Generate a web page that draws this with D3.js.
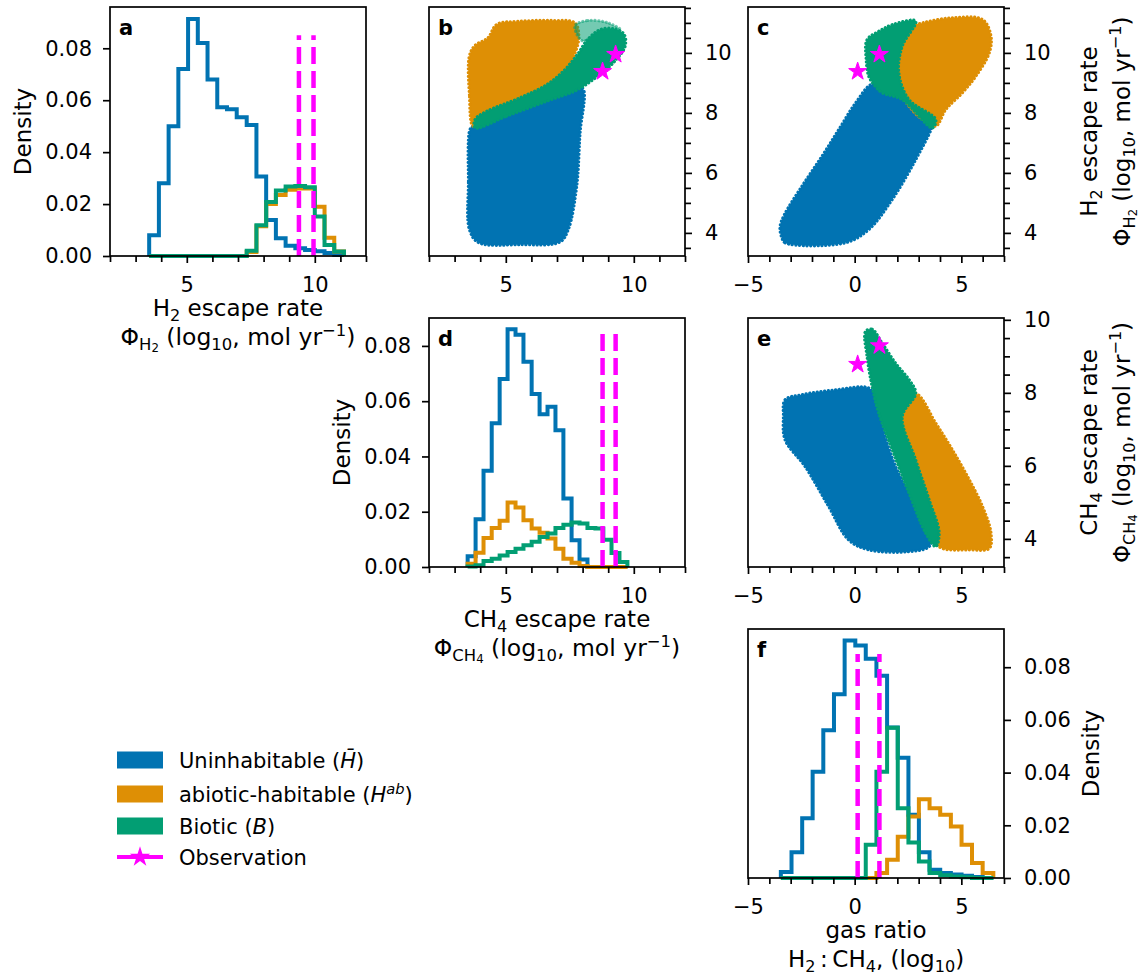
<!DOCTYPE html>
<html>
<head>
<meta charset="utf-8">
<script src="https://cdn.jsdelivr.net/npm/d3@7"></script>
<style>
  body { margin: 0; background: #fff; }
  svg { font-family: "DejaVu Sans", sans-serif; }
</style>
</head>
<body>
<svg id="fig" width="1141" height="976"></svg>
<script>
// ---- histogram data (density per bin, 20 bins) ----
const h2Edges = [3.53, 3.91, 4.29, 4.67, 5.05, 5.43, 5.81, 6.19, 6.57, 6.95, 7.34, 7.72, 8.10, 8.48, 8.86, 9.24, 9.62, 10.00, 10.38, 10.76, 11.14];
const h2Uninhab = [0.008, 0.028, 0.050, 0.072, 0.0913, 0.082, 0.068, 0.0573, 0.0565, 0.0534, 0.0505, 0.0306, 0.0139, 0.0068, 0.0039, 0.003, 0.0023, 0.0018, 0.0012, 0.0004];
const h2Abiotic = [0, 0, 0, 0, 0, 0, 0, 0, 0, 0, 0.0015, 0.0115, 0.020, 0.0235, 0.0255, 0.026, 0.026, 0.019, 0.007, 0.0017];
const h2Biotic = [0, 0, 0, 0, 0, 0, 0, 0, 0, 0, 0.002, 0.0118, 0.0208, 0.0252, 0.0268, 0.027, 0.0265, 0.0152, 0.0042, 0.0017];

const ch4Edges = [3.51, 3.82, 4.13, 4.45, 4.76, 5.07, 5.38, 5.69, 6.01, 6.32, 6.63, 6.94, 7.25, 7.57, 7.88, 8.19, 8.50, 8.81, 9.13, 9.44, 9.75];
const ch4Uninhab = [0.0039, 0.0173, 0.0348, 0.052, 0.068, 0.086, 0.084, 0.0743, 0.0626, 0.0553, 0.058, 0.0495, 0.0248, 0.0097, 0.0027, 0, 0, 0, 0, 0];
const ch4Abiotic = [0.0012, 0.0052, 0.0105, 0.0141, 0.0167, 0.0233, 0.0215, 0.0169, 0.0139, 0.0124, 0.0103, 0.0066, 0.003, 0.0015, 0.0004, 0, 0, 0, 0, 0];
const ch4Biotic = [0.0002, 0.0006, 0.0022, 0.003, 0.0042, 0.0054, 0.0066, 0.0079, 0.0091, 0.0109, 0.0121, 0.0141, 0.0153, 0.0161, 0.0157, 0.0141, 0.0139, 0.0099, 0.0051, 0.0018];

const ratioEdges = [-3.46, -2.96, -2.46, -1.97, -1.47, -0.97, -0.47, 0.03, 0.52, 1.02, 1.52, 2.02, 2.52, 3.01, 3.51, 4.01, 4.51, 5.01, 5.50, 6.00, 6.50];
const ratioUninhab = [0.0023, 0.0098, 0.0227, 0.0403, 0.0561, 0.0697, 0.0901, 0.0882, 0.0832, 0.0768, 0.0571, 0.0456, 0.024, 0.0098, 0.0031, 0.0019, 0.0013, 0.0009, 0.0004, 0];
const ratioAbiotic = [0, 0, 0, 0, 0, 0, 0, 0, 0, 0.0019, 0.0069, 0.0157, 0.0233, 0.0299, 0.0265, 0.024, 0.0195, 0.0126, 0.0057, 0.0019];
const ratioBiotic = [0, 0, 0, 0, 0, 0, 0, 0, 0.0126, 0.0403, 0.057, 0.0265, 0.0135, 0.0063, 0.0019, 0.001, 0.0006, 0.0003, 0, 0];

// ---- observations ----
const obsH2 = [9.38, 9.95];
const obsCH4 = [8.78, 9.29];
const obsRatio = [0.14, 1.16];
const obsLineTop = 0.085;

// ---- scatter cloud outlines (x, y) ----
// panel b: CH4 (x) vs H2 (y)
const cloudB_uninhab = [[3.60,7.44],[3.54,5.67],[3.58,4.11],[3.93,3.68],[5.55,3.61],[7.12,3.70],[7.44,4.11],[7.77,5.56],[7.90,7.33],[8.03,8.78],[7.77,8.89],[5.55,8.22],[3.73,7.56]];
const cloudB_abiotic = [[3.73,7.56],[3.58,8.60],[3.58,9.90],[3.80,10.25],[4.30,10.50],[4.65,10.95],[5.50,11.05],[6.80,11.08],[7.70,11.00],[7.85,10.50],[7.60,9.80],[7.10,9.20],[6.40,8.80],[5.55,8.44],[4.25,7.94]];
const cloudB_biotic = [[3.80,7.50],[5.03,7.89],[6.60,8.39],[7.77,8.76],[8.55,9.20],[9.20,9.67],[9.66,10.22],[9.62,10.62],[9.25,10.80],[8.70,10.78],[8.20,10.45],[7.80,9.95],[7.25,9.39],[6.60,8.94],[5.55,8.50],[4.25,8.05],[3.80,7.78]];
const cloudB_bioticSparse = [[7.70,10.90],[8.20,11.08],[9.00,11.00],[9.50,10.75],[8.70,10.70],[8.00,10.40]];
// panel c: ratio (x) vs H2 (y)
const cloudC_uninhab = [[-3.42,3.85],[-3.26,3.67],[-0.44,3.67],[0.66,4.11],[1.76,5.11],[2.86,6.44],[3.64,7.56],[3.70,7.90],[2.50,8.40],[1.29,8.78],[0.80,8.95],[0.04,8.33],[-0.75,7.44],[-1.53,6.56],[-2.47,5.56],[-3.30,4.60],[-3.50,4.20]];
const cloudC_abiotic = [[1.92,10.33],[2.23,10.78],[3.17,11.00],[4.58,11.17],[6.00,11.11],[6.39,10.56],[6.31,10.00],[5.68,9.22],[5.05,8.67],[4.27,8.11],[3.80,7.56],[3.17,7.78],[2.55,8.22],[2.07,8.78],[1.98,9.56]];
const cloudC_biotic = [[0.58,10.44],[1.13,10.72],[1.76,10.94],[2.86,11.06],[2.23,10.22],[2.07,9.33],[2.55,8.44],[3.80,7.78],[3.64,7.50],[2.23,8.44],[1.29,8.67],[0.98,8.87],[0.66,9.22],[0.54,9.78]];
// panel e: ratio (x) vs CH4 (y)
const cloudE_uninhab = [[-3.34,7.35],[-3.26,7.81],[-2.47,7.95],[-0.91,8.08],[0.66,8.13],[0.98,7.81],[1.29,7.08],[1.92,5.98],[2.86,4.89],[3.64,4.16],[3.49,3.79],[2.55,3.65],[0.66,3.70],[-0.28,3.97],[-1.22,4.89],[-2.32,5.98],[-3.26,6.71]];
const cloudE_abiotic = [[1.92,7.90],[2.86,7.99],[3.80,7.17],[4.58,6.44],[5.37,5.62],[5.99,4.89],[6.39,4.16],[6.31,3.74],[5.37,3.70],[4.11,3.74],[3.64,3.97],[3.17,4.70],[2.55,5.62],[1.92,6.71],[1.60,7.44]];
const cloudE_biotic = [[0.51,9.68],[0.82,9.74],[1.29,9.36],[1.92,8.81],[2.55,8.36],[2.86,7.99],[2.23,7.35],[2.86,6.16],[3.49,5.07],[3.96,4.16],[3.80,3.79],[3.33,4.16],[2.55,5.25],[1.76,6.44],[1.13,7.44],[0.82,8.17],[0.58,9.00]];

// ---- ticks ----
const escTicks = [5, 10];
const escMinor = [2, 3, 4, 6, 7, 8, 9, 11, 12];
const ratioTicks = [-5, 0, 5];
const ratioMinor = [-4, -3, -2, -1, 1, 2, 3, 4, 6, 7];
const rateTicks = [4, 6, 8, 10];
const rateMinorH2 = [3.5, 4.5, 5, 5.5, 6.5, 7, 7.5, 8.5, 9, 9.5, 10.5, 11, 11.5];
const rateMinorCH4 = [3.5, 4.5, 5, 5.5, 6.5, 7, 7.5, 8.5, 9, 9.5];
const densTicks = [0, 0.02, 0.04, 0.06, 0.08];

const legendLabels = ["Uninhabitable", "abiotic-habitable", "Biotic", "Observation"];

const blue = "#0173b2", orange = "#de8f05", green = "#029e73", magenta = "#ff00ff";
const font = "DejaVu Sans, sans-serif";

const W = 256, H = 249;
const colLeft = [110, 429, 748];
const rowTop = [7, 318, 629];

const svg = d3.select("#fig");

function makePanel(col, row, xDom, yDom) {
    const g = svg.append("g").attr("transform", "translate(" + colLeft[col] + "," + rowTop[row] + ")");
    const x = d3.scaleLinear().domain(xDom).range([0, W]);
    const y = d3.scaleLinear().domain(yDom).range([H, 0]);
    return {g: g, x: x, y: y};
}

function styleAxis(sel) {
    sel.select(".domain").remove();
    sel.selectAll(".tick line").attr("stroke", "#000").attr("stroke-width", 1.7);
    sel.selectAll(".tick text").attr("fill", "#000").attr("font-size", 21).attr("font-family", font);
}

function drawAxes(p, xMajor, xMinor, yMajor, yMinor, ySide, yFmt, letter) {
    p.g.append("g").attr("transform", "translate(0," + H + ")")
        .call(d3.axisBottom(p.x).tickValues(xMinor).tickSize(6).tickFormat(""))
        .call(styleAxis);
    p.g.append("g").attr("transform", "translate(0," + H + ")")
        .call(d3.axisBottom(p.x).tickValues(xMajor).tickSize(7).tickPadding(14).tickFormat(d3.format("d")))
        .call(styleAxis);
    const axisFn = ySide === "left" ? d3.axisLeft : d3.axisRight;
    const tx = ySide === "left" ? 0 : W;
    if (yMinor.length) {
        p.g.append("g").attr("transform", "translate(" + tx + ",0)")
            .call(axisFn(p.y).tickValues(yMinor).tickSize(6).tickFormat(""))
            .call(styleAxis);
    }
    p.g.append("g").attr("transform", "translate(" + tx + ",0)")
        .call(axisFn(p.y).tickValues(yMajor).tickSize(7).tickPadding(ySide === "left" ? 11 : 13).tickFormat(yFmt))
        .call(styleAxis);
    p.g.append("rect").attr("width", W).attr("height", H)
        .attr("fill", "none").attr("stroke", "#000").attr("stroke-width", 1.7);
    p.g.append("text").attr("x", 9).attr("y", 28)
        .attr("font-size", 21).attr("font-weight", "bold").attr("font-family", font)
        .text(letter);
}

function stepHist(p, edges, vals, color) {
    const pts = [[edges[0], 0]];
    vals.forEach((v, i) => { pts.push([edges[i], v]); pts.push([edges[i + 1], v]); });
    pts.push([edges[edges.length - 1], 0]);
    p.g.append("path")
        .datum(pts)
        .attr("fill", "none")
        .attr("stroke", color)
        .attr("stroke-width", 4)
        .attr("d", d3.line().x(d => p.x(d[0])).y(d => p.y(d[1])));
}

function obsLines(p, vals) {
    p.g.selectAll(null)
        .data(vals)
        .enter()
        .append("line")
        .attr("x1", d => p.x(d)).attr("x2", d => p.x(d))
        .attr("y1", p.y(0)).attr("y2", p.y(obsLineTop))
        .attr("stroke", magenta)
        .attr("stroke-width", 4.5)
        .attr("stroke-dasharray", "17,7");
}

// a point cloud drawn as its filled outline, with a dotted rim for the loose points at its edge
function cloud(p, pts, color, opacity) {
    const line = d3.line().x(d => p.x(d[0])).y(d => p.y(d[1])).curve(d3.curveCatmullRomClosed.alpha(0.5));
    const o = opacity || 1;
    p.g.append("path").datum(pts)
        .attr("fill", color)
        .attr("fill-opacity", o)
        .attr("d", line);
    p.g.append("path").datum(pts)
        .attr("fill", "none")
        .attr("stroke", color)
        .attr("stroke-opacity", o)
        .attr("stroke-width", 3.2)
        .attr("stroke-linecap", "round")
        .attr("stroke-dasharray", "0.1,3.6")
        .attr("d", line);
}

function stars(p, xs, ys) {
    p.g.selectAll(null)
        .data(xs.map((d, i) => [d, ys[i]]))
        .enter()
        .append("path")
        .attr("transform", d => "translate(" + p.x(d[0]) + "," + p.y(d[1]) + ")")
        .attr("d", d3.symbol().type(d3.symbolStar).size(100))
        .attr("fill", magenta)
        .attr("stroke", magenta)
        .attr("stroke-width", 1);
}

function rich(parent, x, y, parts, fs, rotate, anchor) {
    const t = parent.append("text")
        .attr("text-anchor", anchor || "middle")
        .attr("font-size", fs)
        .attr("font-family", font)
        .attr("transform", "translate(" + x + "," + y + ")" + (rotate ? " rotate(-90)" : ""));
    let cur = 0;
    parts.forEach(part => {
        const s = part[0], mode = part[1] || "";
        let shift = 0, size = fs;
        if (mode.indexOf("subsub") >= 0) { shift = 0.3 * fs; size = 0.5 * fs; }
        else if (mode.indexOf("sub") >= 0) { shift = 0.2 * fs; size = 0.7 * fs; }
        else if (mode.indexOf("sup") >= 0) { shift = -0.38 * fs; size = 0.7 * fs; }
        t.append("tspan")
            .attr("dy", shift - cur)
            .attr("font-size", size)
            .attr("font-style", mode.indexOf("it") >= 0 ? "italic" : "normal")
            .text(s);
        cur = shift;
    });
    return t;
}

const dens = d3.format(".2f");

// ---- panel a ----
const pa = makePanel(0, 0, [2, 12], [0, 0.0959]);
stepHist(pa, h2Edges, h2Uninhab, blue);
stepHist(pa, h2Edges, h2Abiotic, orange);
stepHist(pa, h2Edges, h2Biotic, green);
obsLines(pa, obsH2);
drawAxes(pa, escTicks, escMinor, densTicks, [], "left", dens, "a");
rich(pa.g, -79, H / 2, [["Density"]], 23, true);
rich(pa.g, W / 2, H + 60, [["H"], ["2", "sub"], [" escape rate"]], 23);
rich(pa.g, W / 2, H + 89, [["Φ"], ["H", "sub"], ["2", "subsub"], [" (log"], ["10", "sub"], [", mol yr"], ["−1", "sup"], [")"]], 23.5);

// ---- panel b ----
const pb = makePanel(1, 0, [2, 12], [3.23, 11.53]);
cloud(pb, cloudB_uninhab, blue);
cloud(pb, cloudB_abiotic, orange);
cloud(pb, cloudB_bioticSparse, green, 0.55);
cloud(pb, cloudB_biotic, green);
stars(pb, obsCH4, obsH2);
drawAxes(pb, escTicks, escMinor, rateTicks, rateMinorH2, "right", d3.format("d"), "b");

// ---- panel c ----
const pc = makePanel(2, 0, [-5, 7], [3.23, 11.53]);
cloud(pc, cloudC_uninhab, blue);
cloud(pc, cloudC_abiotic, orange);
cloud(pc, cloudC_biotic, green);
stars(pc, obsRatio, obsH2);
drawAxes(pc, ratioTicks, ratioMinor, rateTicks, rateMinorH2, "right", d3.format("d"), "c");
rich(pc.g, W + 93, H / 2, [["H"], ["2", "sub"], [" escape rate"]], 23, true);
rich(pc.g, W + 126, H / 2, [["Φ"], ["H", "sub"], ["2", "subsub"], [" (log"], ["10", "sub"], [", mol yr"], ["−1", "sup"], [")"]], 23, true);

// ---- panel d ----
const pd = makePanel(1, 1, [2, 12], [0, 0.0901]);
stepHist(pd, ch4Edges, ch4Uninhab, blue);
stepHist(pd, ch4Edges, ch4Abiotic, orange);
stepHist(pd, ch4Edges, ch4Biotic, green);
obsLines(pd, obsCH4);
drawAxes(pd, escTicks, escMinor, densTicks, [], "left", dens, "d");
rich(pd.g, -79, H / 2, [["Density"]], 23, true);
rich(pd.g, W / 2, H + 60, [["CH"], ["4", "sub"], [" escape rate"]], 23);
rich(pd.g, W / 2, H + 89, [["Φ"], ["CH", "sub"], ["4", "subsub"], [" (log"], ["10", "sub"], [", mol yr"], ["−1", "sup"], [")"]], 23.5);

// ---- panel e ----
const pe = makePanel(2, 1, [-5, 7], [3.23, 10.05]);
cloud(pe, cloudE_uninhab, blue);
cloud(pe, cloudE_abiotic, orange);
cloud(pe, cloudE_biotic, green);
stars(pe, obsRatio, obsCH4);
drawAxes(pe, ratioTicks, ratioMinor, rateTicks, rateMinorCH4, "right", d3.format("d"), "e");
rich(pe.g, W + 93, H / 2, [["CH"], ["4", "sub"], [" escape rate"]], 23, true);
rich(pe.g, W + 126, H / 2, [["Φ"], ["CH", "sub"], ["4", "subsub"], [" (log"], ["10", "sub"], [", mol yr"], ["−1", "sup"], [")"]], 23, true);

// ---- panel f ----
const pf = makePanel(2, 2, [-5, 7], [0, 0.0945]);
stepHist(pf, ratioEdges, ratioUninhab, blue);
stepHist(pf, ratioEdges, ratioAbiotic, orange);
stepHist(pf, ratioEdges, ratioBiotic, green);
obsLines(pf, obsRatio);
drawAxes(pf, ratioTicks, ratioMinor, densTicks, [], "right", dens, "f");
rich(pf.g, W + 95, H / 2, [["Density"]], 23, true);
rich(pf.g, W / 2, H + 60, [["gas ratio"]], 23);
rich(pf.g, W / 2, H + 89, [["H"], ["2", "sub"], ["\u2009:\u2009CH"], ["4", "sub"], [", (log"], ["10", "sub"], [")"]], 23);

// ---- legend ----
const leg = svg.append("g").attr("transform", "translate(117,0)");
const legRows = [760, 794, 826, 857];
const legColors = [blue, orange, green];
legColors.forEach((c, i) => {
    leg.append("rect").attr("x", 0).attr("y", legRows[i] - 8.5).attr("width", 46).attr("height", 17).attr("fill", c);
});
leg.append("line").attr("x1", 0).attr("x2", 46).attr("y1", legRows[3]).attr("y2", legRows[3])
    .attr("stroke", magenta).attr("stroke-width", 4);
leg.append("path").attr("transform", "translate(23," + legRows[3] + ")")
    .attr("d", d3.symbol().type(d3.symbolStar).size(130)).attr("fill", magenta);
rich(leg, 62, legRows[0] + 7.5, [[legendLabels[0] + " ("], ["H\u0304", "it"], [")"]], 21, false, "start");
rich(leg, 62, legRows[1] + 7.5, [[legendLabels[1] + " ("], ["H", "it"], ["ab", "itsup"], [")"]], 21, false, "start");
rich(leg, 62, legRows[2] + 7.5, [[legendLabels[2] + " ("], ["B", "it"], [")"]], 21, false, "start");
rich(leg, 62, legRows[3] + 7.5, [[legendLabels[3]]], 21, false, "start");
</script>
</body>
</html>
